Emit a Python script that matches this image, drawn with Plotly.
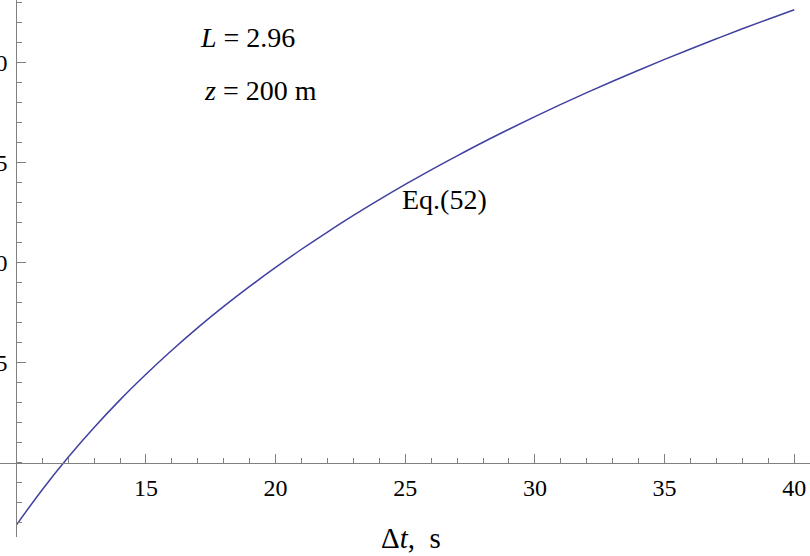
import plotly.graph_objects as go

# Data
dt_s = list(range(10, 41))
eq52 = [-3.12, -1.35, 0.27, 1.76, 3.14, 4.42, 5.62, 6.75, 7.81, 8.81, 9.76,
        10.67, 11.53, 12.36, 13.15, 13.91, 14.64, 15.34, 16.02, 16.67, 17.30,
        17.91, 18.50, 19.07, 19.62, 20.16, 20.68, 21.19, 21.69, 22.17, 22.64]

x_ticks = [15, 20, 25, 30, 35, 40]
y_ticks = [5, 10, 15, 20]

x_range = [9.371, 40.609]
y_range = [-3.715, 23.13]

FONT = "Times New Roman"
AX = "#808080"

fig = go.Figure()
fig.add_trace(go.Scatter(x=dt_s, y=eq52, mode="lines",
                         line=dict(color="rgb(64,64,160)", width=1.5, shape="spline"),
                         showlegend=False, hoverinfo="skip"))

xpos = (0 - y_range[0]) / (y_range[1] - y_range[0])
ypos = (10 - x_range[0]) / (x_range[1] - x_range[0])

fig.update_layout(
    template="none",
    width=810, height=556,
    margin=dict(l=0, r=0, t=0, b=19, pad=0),
    plot_bgcolor="white", paper_bgcolor="white",
    font=dict(family=FONT, size=24, color="black"),
    xaxis=dict(range=x_range, anchor="free", position=xpos, automargin=False,
               showgrid=False, zeroline=False, showline=True, linecolor=AX, linewidth=1,
               tickmode="array", tickvals=x_ticks, ticks="inside", ticklen=9,
               tickcolor=AX, tickwidth=1, ticklabelstandoff=4,
               tickfont=dict(family=FONT, size=24, color="black"),
               minor=dict(dtick=1, tick0=0, ticks="inside", ticklen=5, tickcolor=AX,
                          showgrid=False)),
    yaxis=dict(range=y_range, anchor="free", position=ypos, automargin=False,
               showgrid=False, zeroline=False, showline=True, linecolor=AX, linewidth=1,
               tickmode="array", tickvals=y_ticks, ticks="inside", ticklen=9,
               tickcolor=AX, tickwidth=1, ticklabelstandoff=4,
               tickfont=dict(family=FONT, size=24, color="black"),
               minor=dict(dtick=1, tick0=0, ticks="inside", ticklen=5, tickcolor=AX,
                          showgrid=False)),
)

fig.add_annotation(x=18.9, y=21.25, xref="x", yref="y", text="<i>L</i> = 2.96",
                   showarrow=False, font=dict(family=FONT, size=28))
fig.add_annotation(x=19.4, y=18.6, xref="x", yref="y", text="<i>z</i> = 200 m",
                   showarrow=False, font=dict(family=FONT, size=28))
fig.add_annotation(x=26.53, y=13.14, xref="x", yref="y", text="Eq.(52)",
                   showarrow=False, font=dict(family=FONT, size=28))
fig.add_annotation(x=25.22, y=-0.002, xref="x", yref="paper", yanchor="middle",
                   text="Δ<i>t</i>,  s", showarrow=False, font=dict(family=FONT, size=29))

fig.write_html("out.html", config={"displayModeBar": False},
               post_script="document.body.style.margin='0';")
